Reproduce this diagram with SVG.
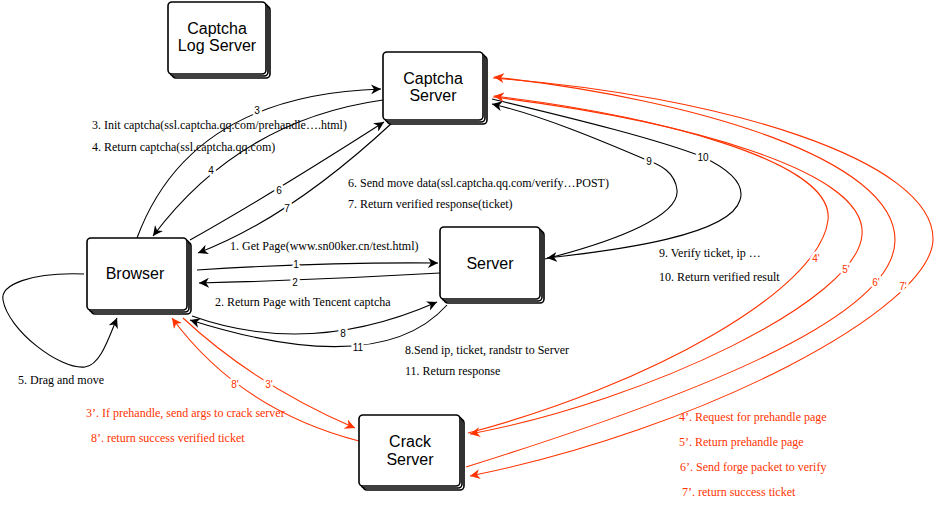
<svg xmlns="http://www.w3.org/2000/svg" width="937" height="505" viewBox="0 0 937 505">
<style>
.box{fill:#fff;stroke:#000;stroke-width:1.6}
.nl{font-family:"Liberation Sans",Arial,sans-serif;font-size:16px;text-anchor:middle;fill:#000}
.ann{font-family:"Liberation Serif","Times New Roman",serif;font-size:12px;fill:#000}
.annr{font-family:"Liberation Serif","Times New Roman",serif;font-size:12px;fill:#ff3300}
.c{fill:none;stroke:#000;stroke-width:1.1}
.cr{fill:none;stroke:#ff3300;stroke-width:1.1}
.num{font-family:"Liberation Sans",Arial,sans-serif;font-size:10px;text-anchor:middle;fill:#000;stroke:#fff;stroke-width:5;paint-order:stroke;stroke-linejoin:round}
.numr{font-family:"Liberation Sans",Arial,sans-serif;font-size:10px;text-anchor:middle;fill:#ff3300;stroke:#fff;stroke-width:5;paint-order:stroke;stroke-linejoin:round}
</style>
<defs>
<marker id="ab" markerUnits="userSpaceOnUse" markerWidth="12" markerHeight="10" refX="10" refY="5" orient="auto" viewBox="0 0 12 10">
<path d="M0,0 L10,5 L0,10 L3,5 z" fill="#000"/>
</marker>
<marker id="ar" markerUnits="userSpaceOnUse" markerWidth="12" markerHeight="10" refX="10" refY="5" orient="auto" viewBox="0 0 12 10">
<path d="M0,0 L10,5 L0,10 L3,5 z" fill="#ff3300"/>
</marker>
</defs>

<g id="connectors">
<!-- 1 -->
<path class="c" d="M197 270 Q320 262 438 263" marker-end="url(#ab)"/>
<text class="num" x="296" y="268">1</text>
<!-- 2 -->
<path class="c" d="M440 273 Q320 280 199 283" marker-end="url(#ab)"/>
<text class="num" x="295" y="286">2</text>
<!-- 3 -->
<path class="c" d="M137 238 Q190 95 381 89" marker-end="url(#ab)"/>
<text class="num" x="257" y="114">3</text>
<!-- 4 -->
<path class="c" d="M383 100 Q240 120 153 236" marker-end="url(#ab)"/>
<text class="num" x="211" y="174">4</text>
<!-- 6 -->
<path class="c" d="M190 240 Q270 195 384 122" marker-end="url(#ab)"/>
<text class="num" x="279" y="194">6</text>
<!-- 7 -->
<path class="c" d="M393 122 Q290 218 198 253" marker-end="url(#ab)"/>
<text class="num" x="287" y="212">7</text>
<!-- 8 -->
<path class="c" d="M192 316 Q310 358 437 302" marker-end="url(#ab)"/>
<text class="num" x="343" y="337">8</text>
<!-- 11 -->
<path class="c" d="M447 305 Q380 380 190 320" marker-end="url(#ab)"/>
<text class="num" x="358" y="351">11</text>
<!-- 5 self loop -->
<path class="c" d="M84 274 C30 272 0 285 3 300 C8 330 60 370 85 367 C100 365 108 340 117 318" marker-end="url(#ab)"/>
<!-- 9 -->
<path class="c" d="M545 259 C620 240 680 215 677 190 C675 172 660 165 649 161 C600 140 540 115 492 104" marker-end="url(#ab)"/>
<text class="num" x="649" y="165">9</text>
<!-- 10 -->
<path class="c" d="M492 99 C580 120 660 140 703 157 C730 170 745 185 740 200 C730 235 620 250 547 258" marker-end="url(#ab)"/>
<text class="num" x="703" y="161">10</text>
<!-- 3' -->
<path class="cr" d="M183 318 Q255 385 355 428" marker-end="url(#ar)"/>
<text class="numr" x="269" y="388">3'</text>
<!-- 8' -->
<path class="cr" d="M359 441 Q240 410 172 318" marker-end="url(#ar)"/>
<text class="numr" x="235" y="388">8'</text>
<!-- 4' -->
<path class="cr" d="M468 433 C650 385 820 290 828 220 C835 160 650 115 494 96" marker-end="url(#ar)"/>
<text class="numr" x="816" y="262">4'</text>
<!-- 5' -->
<path class="cr" d="M493 97 C680 120 868 170 862 235 C857 300 650 400 470 434" marker-end="url(#ar)"/>
<text class="numr" x="846" y="273">5'</text>
<!-- 6' -->
<path class="cr" d="M466 467 C680 400 895 320 895 240 C895 160 700 100 494 77" marker-end="url(#ar)"/>
<text class="numr" x="876" y="286">6'</text>
<!-- 7' -->
<path class="cr" d="M493 78 C720 95 935 160 933 240 C930 310 700 430 470 476" marker-end="url(#ar)"/>
<text class="numr" x="903" y="290">7'</text>
</g>

<g id="captcha-log-server">
<rect class="box" x="172" y="6" width="98" height="72" rx="4"/>
<rect class="box" x="170" y="4" width="98" height="72" rx="4"/>
<rect class="box" x="168" y="2" width="98" height="72" rx="4"/>
<text class="nl" x="217" y="34">Captcha</text>
<text class="nl" x="217" y="51">Log Server</text>
</g>

<g id="captcha-server">
<rect class="box" x="387" y="56" width="100" height="68" rx="4"/>
<rect class="box" x="385" y="54" width="100" height="68" rx="4"/>
<rect class="box" x="383" y="52" width="100" height="68" rx="4"/>
<text class="nl" x="433" y="84">Captcha</text>
<text class="nl" x="433" y="101">Server</text>
</g>

<g id="browser">
<rect class="box" x="91" y="242" width="100" height="72" rx="4"/>
<rect class="box" x="89" y="240" width="100" height="72" rx="4"/>
<rect class="box" x="87" y="238" width="100" height="72" rx="4"/>
<text class="nl" x="135" y="279">Browser</text>
</g>

<g id="server">
<rect class="box" x="444" y="231" width="100" height="72" rx="4"/>
<rect class="box" x="442" y="229" width="100" height="72" rx="4"/>
<rect class="box" x="440" y="227" width="100" height="72" rx="4"/>
<text class="nl" x="490" y="269">Server</text>
</g>

<g id="crack-server">
<rect class="box" x="363" y="419" width="101" height="71" rx="4"/>
<rect class="box" x="361" y="417" width="101" height="71" rx="4"/>
<rect class="box" x="359" y="415" width="101" height="71" rx="4"/>
<text class="nl" x="410" y="447">Crack</text>
<text class="nl" x="410" y="465">Server</text>
</g>

<g id="annotations">
<text class="ann" x="92" y="129">3. Init captcha(ssl.captcha.qq.com/prehandle….html)</text>
<text class="ann" x="92" y="151">4. Return captcha(ssl.captcha.qq.com)</text>
<text class="ann" x="348" y="187">6. Send move data(ssl.captcha.qq.com/verify…POST)</text>
<text class="ann" x="348" y="208">7. Return verified response(ticket)</text>
<text class="ann" x="230" y="250">1. Get Page(www.sn00ker.cn/test.html)</text>
<text class="ann" x="215" y="306">2. Return Page with Tencent captcha</text>
<text class="ann" x="405" y="354">8.Send ip, ticket, randstr to Server</text>
<text class="ann" x="405" y="375">11. Return response</text>
<text class="ann" x="659" y="257">9. Verify ticket, ip …</text>
<text class="ann" x="659" y="281">10. Return verified result</text>
<text class="ann" x="18" y="384">5. Drag and move</text>
<text class="annr" x="86" y="417">3’. If prehandle, send args to crack server</text>
<text class="annr" x="91" y="442">8’. return success verified ticket</text>
<text class="annr" x="679" y="421">4’. Request for prehandle page</text>
<text class="annr" x="679" y="446">5’. Return prehandle page</text>
<text class="annr" x="680" y="471">6’. Send forge packet to verify</text>
<text class="annr" x="682" y="496">7’. return success ticket</text>
</g>
</svg>
